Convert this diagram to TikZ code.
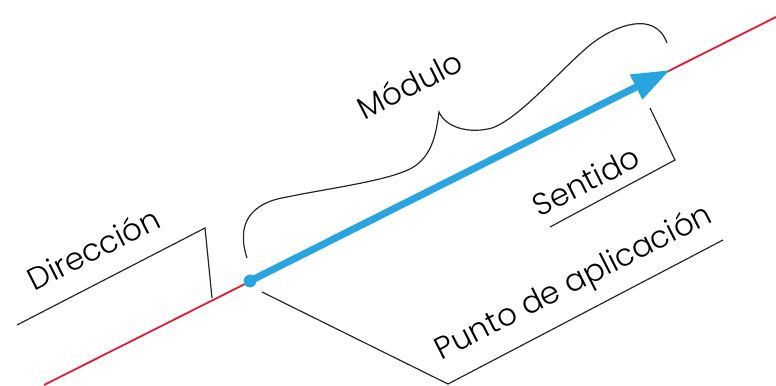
\documentclass[tikz,border=0pt]{standalone}
\usepackage{fontspec}
\setmainfont{Poppins}[UprightFont=* Light]
\usetikzlibrary{positioning, arrows.meta, calc}
\definecolor{rojo}{RGB}{222,30,50}
\definecolor{azul}{RGB}{40,165,225}

\begin{document}
\begin{tikzpicture}[x=0.025cm, y=-0.025cm,
    texto/.style={font=\fontsize{22}{24}\selectfont, rotate=27, anchor=base, inner sep=0pt},
    guia/.style={black!85, line width=0.85pt},
    vector/.style={-{Triangle[length=9.5mm, width=6.5mm]}, azul, line width=5pt}
]
\useasboundingbox (0,0) rectangle (776,386);

% Recta de accion
\coordinate (r1) at (44,385);
\coordinate (r2) at (776,17);
\draw[rojo, line width=1.3pt] (r1) -- (r2);

% Vector
\node[circle, fill=azul, minimum size=3.2mm, inner sep=0pt] (origen) at (250,281) {};
\coordinate (punta) at (670,70);
\draw[vector] (origen.center) -- (punta);

% Direccion
\coordinate (d1) at (17,325);
\coordinate (d2) at (205,228);
\coordinate (d3) at (212,298);
\draw[guia] (d1) -- (d2) -- (d3);
\node[texto] (direccion) at (99,259) {Dirección};

% Sentido
\coordinate (s1) at (550,227);
\coordinate (s2) at (675,160);
\coordinate (s3) at (650,108);
\draw[guia] (s1) -- (s2) -- (s3);
\node[texto] (sentido) at (591,191) {Sentido};

% Punto de aplicacion
\coordinate (p1) at (262,292);
\coordinate (p2) at (448,384);
\coordinate (p3) at (723,240);
\draw[guia] (p1) -- (p2) -- (p3);
\node[texto] (punto) at (578,291) {Punto de aplicación};

% Modulo
\coordinate (m1) at (247,258);
\coordinate (m2) at (439,112);
\coordinate (m3) at (667,43);
\draw[guia] (m1) .. controls (236,224) and (250,203) .. (287,197)
    .. controls (330,188) and (395,180) .. (415,166)
    .. controls (432,154) and (436,135) .. (m2)
    .. controls (446,128) and (470,134) .. (492,128)
    .. controls (520,118) and (560,70) .. (590,45)
    .. controls (615,25) and (655,10) .. (m3);
\node[texto] (modulo) at (415,95) {Módulo};

\end{tikzpicture}
\end{document}
